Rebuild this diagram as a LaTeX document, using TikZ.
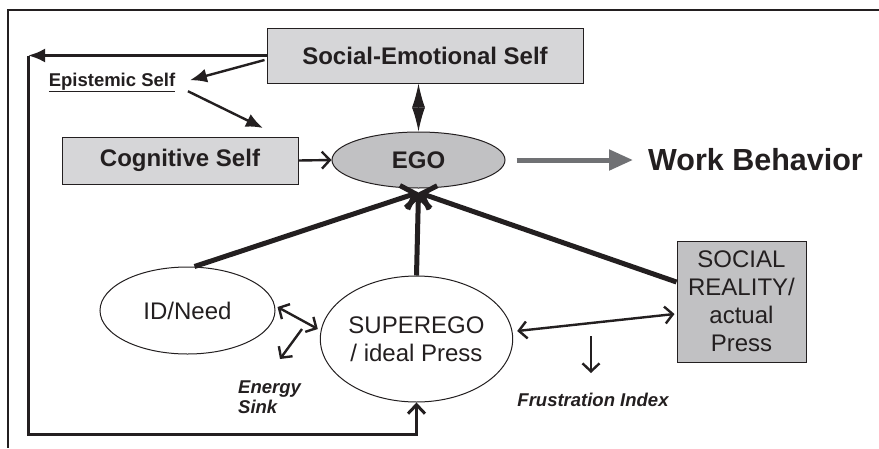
\documentclass[tikz,border=0pt]{standalone}
\usepackage{fontspec}
\setmainfont{Liberation Sans}
\usetikzlibrary{arrows.meta,shapes.geometric}
\definecolor{boxlight}{HTML}{D6D6D8}
\definecolor{boxdark}{HTML}{C1C1C3}
\definecolor{wbgray}{HTML}{707174}
\definecolor{ink}{HTML}{231F20}
\begin{document}
\begin{tikzpicture}[x=1pt,y=-1pt,
  every node/.style={text=ink},
  boxnode/.style={draw=ink, line width=1pt, inner sep=0pt},
  ellnode/.style={ellipse, draw=ink, line width=1pt, inner sep=0pt},
  bigbold/.style={font=\bfseries\fontsize{24}{28}\selectfont},
  bigreg/.style={font=\fontsize{24}{27.5}\selectfont, align=center},
  smallbi/.style={font=\bfseries\itshape\fontsize{18.5}{20}\selectfont, inner sep=0pt},
  thinarr/.style={draw=ink, line width=2.4pt},
  openbarb/.style={thinarr, -{Straight Barb[length=8pt,width=17pt]}},
  dblbarb/.style={thinarr, {Straight Barb[length=8pt,width=17pt]}-{Straight Barb[length=8pt,width=17pt]}},
  filledarr/.style={thinarr, -{Latex[length=17pt,width=14pt]}},
  thickarr/.style={draw=ink, line width=5pt, -{Straight Barb[length=12pt,width=25pt]}},
  feedback/.style={draw=ink, line width=3pt},
]
\useasboundingbox (0,0) rectangle (879,448);
\fill[white] (0,0) rectangle (879,448);
% frame
\draw[ink, line width=1.3pt] (879,10) -- (8,10) -- (8,448);

% nodes
\node[boxnode, fill=boxlight, minimum width=316pt, minimum height=55pt, bigbold] (ses) at (425,55.5) {Social-Emotional Self};
\node[boxnode, fill=boxlight, minimum width=236pt, minimum height=47pt, bigbold] (cog) at (180,160.5) {Cognitive Self};
\node[ellnode, fill=boxdark, minimum width=173pt, minimum height=56pt, bigbold] (ego) at (418.5,160) {EGO};
\node[ellnode, fill=white, minimum width=175pt, minimum height=87pt, bigreg] (id) at (187.5,310.5) {ID/Need};
\node[ellnode, fill=white, minimum width=173pt, minimum height=126pt, bigreg] (sup) at (416.5,339) {SUPEREGO\\/ ideal Press};
\node[boxnode, fill=boxdark, minimum width=129pt, minimum height=121pt, font=\fontsize{24}{28}\selectfont, align=center] (sr) at (741.5,301.5) {SOCIAL\\REALITY/\\actual\\Press};
\node[font=\bfseries\fontsize{18.5}{22}\selectfont, inner sep=0pt, anchor=base] (epi) at (112,86) {\underline{Epistemic Self}};
\node[font=\bfseries\fontsize{30.5}{34}\selectfont, inner sep=0pt, anchor=west] (wb) at (648,160) {Work Behavior};
\node[smallbi, align=left, anchor=north west] (es) at (238,381) {Energy\\Sink};
\node[smallbi, anchor=base] (fi) at (593,406) {Frustration Index};

% coordinates
\coordinate (c1) at (28,55.5);
\coordinate (c2) at (28,434);
\coordinate (c3) at (sup.south |- c2);
\coordinate (epiend) at (263,128);
\coordinate (egob) at ([yshift=-4pt]ego.south);
\coordinate (es1) at (302,329);
\coordinate (es2) at (280,359);
\coordinate (fi1) at (591,336);
\coordinate (fi2) at (591,373);

% feedback loop
\draw[feedback, -{Latex[length=17pt,width=14pt]}] (ses.west) -- (c1);
\draw[feedback, -{Straight Barb[length=9pt,width=17pt]}] (c1) -- (c2) -- (c3) -- (sup.south);

% epistemic self arrows
\draw[filledarr] ([xshift=-2pt,yshift=-4.5pt]ses.west) -- ([xshift=14.5pt,yshift=2pt]epi.east);
\draw[filledarr] ([xshift=12.5pt,yshift=-9pt]epi.east) -- (epiend);

% cognitive -> ego
\draw[openbarb] (cog.east) -- (ego.west);

% diamond
\draw[draw=ink, line width=1pt, {Latex[length=24pt,width=13pt]}-{Latex[length=24pt,width=13pt]}] (ego.north |- ses.south) -- (ego.north);

% work behavior
\draw[draw=wbgray, line width=5pt, -{Triangle[length=24pt,width=20pt]}] ([xshift=11pt]ego.east) -- ([xshift=-15pt]wb.west);

% thick arrows into ego
\draw[thickarr] ([xshift=7pt]id.north) -- (egob);
\draw[thickarr] (sup.north) -- (egob);
\draw[thickarr] ([yshift=19.5pt]sr.west) -- (egob);

% double arrows
\draw[dblbarb] ([xshift=2pt,yshift=3.5pt]id.east) -- ([xshift=-2pt,yshift=10pt]sup.west);
\draw[dblbarb] ([xshift=4pt,yshift=8pt]sup.east) -- ([xshift=-2pt,yshift=-12.5pt]sr.west);

% sinks
\draw[openbarb] (es1) -- (es2);
\draw[openbarb] (fi1) -- (fi2);
\end{tikzpicture}
\end{document}
